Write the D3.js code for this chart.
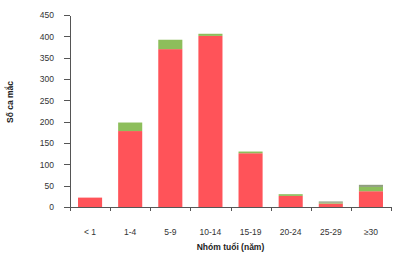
<!DOCTYPE html>
<html>
<head>
<meta charset="utf-8">
<script src="https://cdn.jsdelivr.net/npm/d3@7"></script>
<style>
  body { margin: 0; background: #fff; }
  svg { display: block; font-family: "Liberation Sans", Arial, sans-serif; }
  .axis path, .axis line { stroke: #555; shape-rendering: crispEdges; }
  .axis text { fill: #333; font-size: 8.5px; }
  .title { font-size: 8.5px; font-weight: bold; fill: #222; }
</style>
</head>
<body>
<svg width="400" height="258"></svg>
<script>
// nhóm tuổi và số ca mắc
const categories = ['< 1', '1-4', '5-9', '10-14', '15-19', '20-24', '25-29', '\u226530'];
const series_red = [22, 178, 370, 401, 126, 26, 8, 37];
const series_green = [0, 20, 22, 5, 4, 4, 2, 10];
const series_grey = [0, 0, 0, 0, 0, 0, 3, 5];
const y_ticks = [0, 50, 100, 150, 200, 250, 300, 350, 400, 450];

function graph() {
  const svg = d3.select('svg');
  const left = 70, right = 391, top = 15, bottom = 207;

  const rows = categories.map((c, i) => ({
    cat: c, red: series_red[i], green: series_green[i], grey: series_grey[i]
  }));
  const stack = d3.stack().keys(['red', 'green', 'grey'])(rows);
  const colors = {red: '#ff5359', green: '#8dbe5b', grey: '#8f9e7e'};

  const x = d3.scaleBand()
    .domain(categories)
    .range([left, right])
    .paddingInner(0.4)
    .paddingOuter(0.2);
  const xIndex = d3.scaleLinear()
    .domain([0, categories.length])
    .range([left, right]);
  const y = d3.scaleLinear()
    .domain([0, 450])
    .range([bottom, top]);

  stack.forEach((layer) => {
    svg.append('g')
      .attr('fill', colors[layer.key])
      .selectAll('rect')
      .data(layer)
      .enter()
      .append('rect')
      .attr('x', (d) => x(d.data.cat))
      .attr('width', x.bandwidth())
      .attr('y', (d) => y(d[1]))
      .attr('height', (d) => y(d[0]) - y(d[1]));
  });

  // trục y
  svg.append('g')
    .attr('class', 'axis')
    .attr('transform', `translate(${left},0)`)
    .call(d3.axisLeft(y).tickValues(y_ticks).tickSize(6).tickSizeOuter(0).tickPadding(10));

  // trục x: vạch chia giữa các nhóm
  svg.append('g')
    .attr('class', 'axis')
    .attr('transform', `translate(0,${bottom})`)
    .call(d3.axisBottom(xIndex).tickValues(d3.range(categories.length + 1)).tickSize(4).tickSizeOuter(0).tickFormat(''));
  svg.append('line')
    .attr('x1', left - 6).attr('x2', left)
    .attr('y1', bottom).attr('y2', bottom)
    .attr('stroke', '#555')
    .attr('shape-rendering', 'crispEdges');

  // nhãn nhóm
  const xl = svg.append('g')
    .attr('class', 'axis')
    .attr('transform', `translate(0,${bottom + 18})`)
    .call(d3.axisBottom(x).tickSize(0).tickPadding(4));
  xl.select('.domain').remove();

  svg.append('text')
    .attr('class', 'title')
    .attr('x', (left + right) / 2)
    .attr('y', 250)
    .attr('text-anchor', 'middle')
    .text('Nhóm tuổi (năm)');

  svg.append('text')
    .attr('class', 'title')
    .attr('transform', 'translate(13,102) rotate(-90)')
    .attr('text-anchor', 'middle')
    .text('Số ca mắc');
}

graph();
</script>
</body>
</html>
